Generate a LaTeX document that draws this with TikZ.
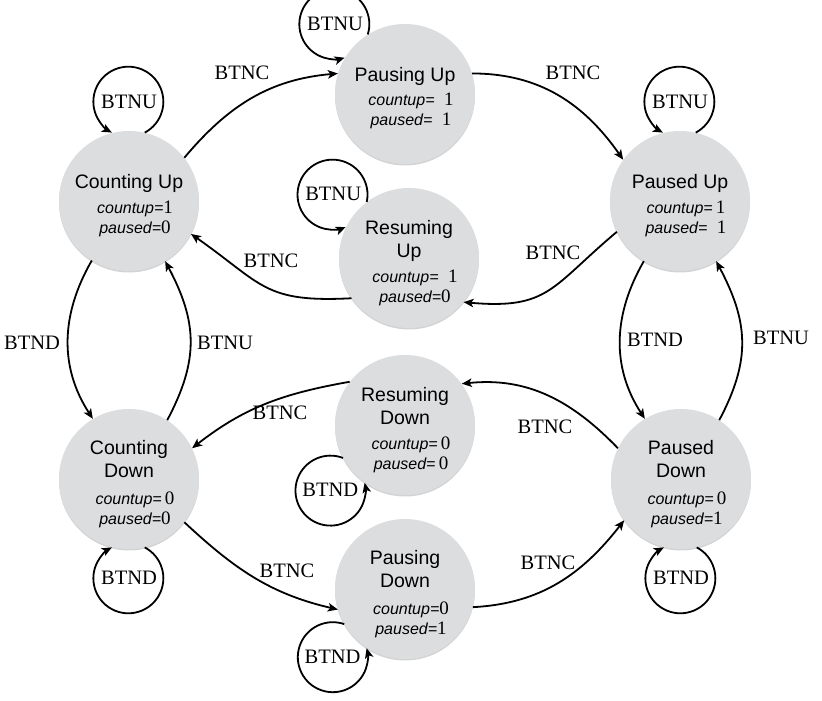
\documentclass[tikz,border=0pt]{standalone}
\usepackage{fontspec}
\setmainfont{Liberation Serif}
\setsansfont{Liberation Sans}
\usetikzlibrary{arrows.meta,shadows,calc}
\definecolor{stfill}{RGB}{220,221,223}
\newcommand\sttitle[1]{{\sffamily\fontsize{19.5}{20}\selectfont #1}}
\newcommand\stval[2]{\hspace*{12pt}{\sffamily\itshape #1}{\rmfamily\fontsize{19}{20}\selectfont #2}}
\tikzset{
  state/.style={circle, minimum size=140pt, inner sep=0pt, fill=stfill,
    drop shadow={shadow xshift=0pt, shadow yshift=-1.5pt, opacity=0.35, fill=black!50}},
  stext/.style={align=center, inner sep=0pt, font=\fontsize{16}{20}\selectfont},
  arr/.style={draw, line width=1.8pt, -{Stealth[length=10pt,width=8.5pt,inset=2.5pt]}},
  lbl/.style={font=\rmfamily\fontsize{20.5}{22}\selectfont, inner sep=0pt},
}
\newcommand\loopccw[3]{%
  \pgfmathtruncatemacro\lpa{#2-13}%
  \pgfmathsetmacro\lps{#2+208}%
  \pgfmathsetmacro\lpe{#2+512}%
  \draw[arr] (#1.\lpa) arc[start angle=\lps, end angle=\lpe, radius=35];
  \node[lbl] (#1loop) at ($(#1)+(#2:99)$) {#3};}
\newcommand\loopcw[3]{%
  \pgfmathtruncatemacro\lpa{#2+13}%
  \pgfmathsetmacro\lps{#2+152}%
  \pgfmathsetmacro\lpe{#2-152}%
  \draw[arr] (#1.\lpa) arc[start angle=\lps, end angle=\lpe, radius=35];
  \node[lbl] (#1loop) at ($(#1)+(#2:99)$) {#3};}
\begin{document}
\begin{tikzpicture}[x=1pt,y=1pt]
\useasboundingbox (0,0) rectangle (822,701);
% states
\node[state] (cu) at (129,500) {};
\node[state] (pu) at (405,607) {};
\node[state] (pau) at (680,500) {};
\node[state] (ru) at (409,443) {};
\node[state] (rd) at (405,276) {};
\node[state] (cd) at (129,222) {};
\node[state] (pd) at (681,222) {};
\node[state] (psd) at (405,112) {};
\node[stext] (cutx) at ([yshift=-5pt]cu.center) {\sttitle{Counting Up}\\[5pt]\stval{countup=}{1}\\\stval{paused=}{0}};
\node[stext] (putx) at ([yshift=-4pt]pu.center) {\sttitle{Pausing Up}\\[4pt]\stval{countup=}{\enspace1}\\\stval{paused=}{\enspace1}};
\node[stext] (pautx) at ([yshift=-5pt]pau.center) {\sttitle{Paused Up}\\[5pt]\stval{countup=}{\,1}\\\stval{paused=}{\enspace1}};
\node[stext] (rutx) at ([yshift=-5pt]ru.center) {\sttitle{Resuming}\\[3pt]\sttitle{Up}\\[5pt]\stval{countup=}{\enspace1}\\\stval{paused=}{0}};
\node[stext] (rdtx) at ([yshift=-5pt]rd.center) {\sttitle{Resuming}\\[3pt]\sttitle{Down}\\[5pt]\stval{countup=}{\,0}\\\stval{paused=}{\,0}};
\node[stext] (cdtx) at ([yshift=-5pt]cd.center) {\sttitle{Counting}\\[3pt]\sttitle{Down}\\[7pt]\stval{countup=}{\,0}\\\stval{paused=}{0}};
\node[stext] (pdtx) at ([yshift=-5pt]pd.center) {\sttitle{Paused}\\[3pt]\sttitle{Down}\\[7pt]\stval{countup=}{\,0}\\\stval{paused=}{1}};
\node[stext] (psdtx) at ([yshift=-5pt]psd.center) {\sttitle{Pausing}\\[3pt]\sttitle{Down}\\[7pt]\stval{countup=}{0}\\\stval{paused=}{1}};
% self loops
\loopccw{cu}{90}{BTNU}
\loopccw{pu}{135}{BTNU}
\loopccw{pau}{90}{BTNU}
\loopccw{ru}{140}{BTNU}
\loopccw{rd}{221}{BTND}
\loopcw{cd}{270}{BTND}
\loopcw{pd}{270}{BTND}
\loopccw{psd}{223}{BTND}
% transitions
\draw[arr] (cu.38) to[out=50,in=185] (pu.163);
\draw[arr] (pu.17) to[out=0,in=125] (pau.144);
\draw[arr] (pau.206) to[out=220,in=355,looseness=1.3] (ru.321);
\draw[arr] (ru.215) to[out=183,in=325,looseness=1.3] (cu.332);
\draw[arr] (cu.238) to[out=240,in=123] (cd.121);
\draw[arr] (cd.57) to[out=62,in=298,looseness=1.1] (cu.301);
\draw[arr] (pau.239) to[out=240,in=123] (pd.121);
\draw[arr] (pd.57) to[out=62,in=298,looseness=1.1] (pau.301);
\draw[arr] (pd.154) to[out=134,in=6] (rd.36);
\draw[arr] (rd.142) to[out=190,in=38] (cd.26);
\draw[arr] (cd.322) to[out=-43,in=167] (psd.197);
\draw[arr] (psd.345) to[out=3,in=232] (pd.216);
% labels
\node[lbl] (l1) at (242,628) {BTNC};
\node[lbl] (l2) at (573,628) {BTNC};
\node[lbl] (l3) at (553,448) {BTNC};
\node[lbl] (l4) at (271,440) {BTNC};
\node[lbl] (l5) at (32,358) {BTND};
\node[lbl] (l6) at (225,358) {BTNU};
\node[lbl] (l7) at (655,361) {BTND};
\node[lbl] (l8) at (781,363) {BTNU};
\node[lbl] (l9) at (545,274) {BTNC};
\node[lbl] (l10) at (280,288) {BTNC};
\node[lbl] (l11) at (287,130) {BTNC};
\node[lbl] (l12) at (548,138) {BTNC};
\end{tikzpicture}
\end{document}
